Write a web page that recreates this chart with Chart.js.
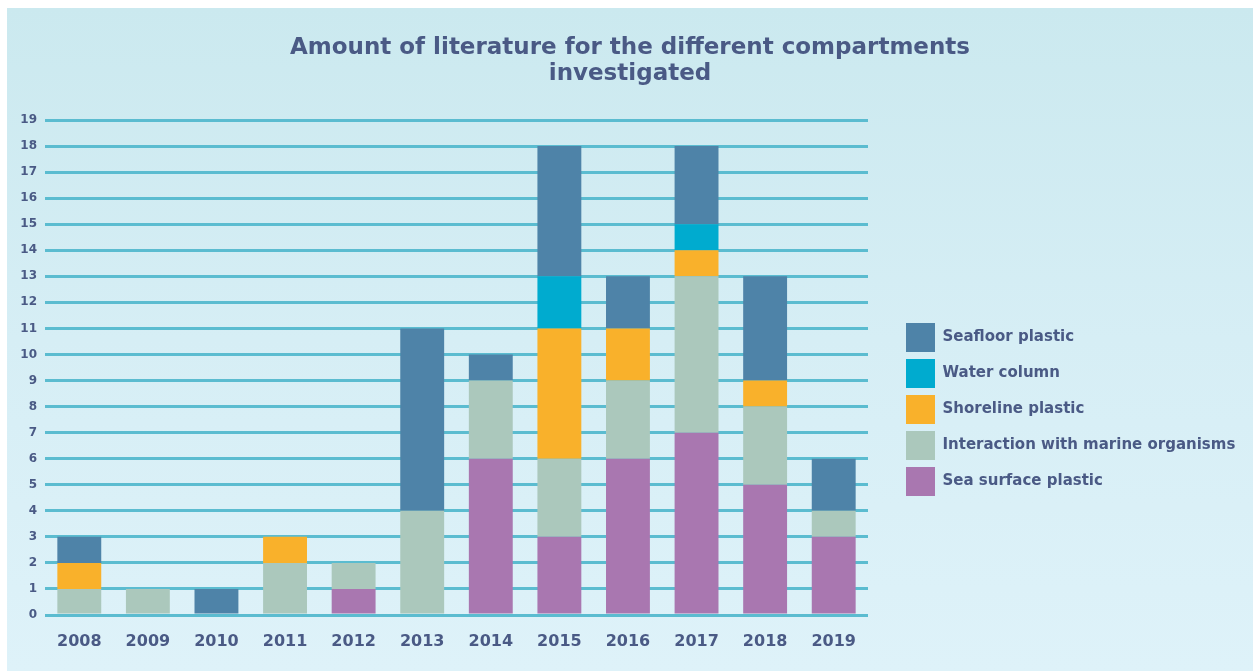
<!DOCTYPE html>
<html>
<head>
<meta charset="utf-8">
<script src="https://cdn.jsdelivr.net/npm/chart.js@4.4.1/dist/chart.umd.min.js"></script>
<style>
  body { margin: 0; background: #fff; }
  #panel {
    position: absolute; left: 7px; top: 8px; width: 1246px; height: 663px;
    background: linear-gradient(to bottom, #cbe9ef 0%, #d6eef5 50%, #def2f9 100%);
  }
</style>
</head>
<body>
<div id="panel"><canvas id="myChart" width="1246" height="663"></canvas></div>
<script>
const years = ['2008', '2009', '2010', '2011', '2012', '2013', '2014', '2015', '2016', '2017', '2018', '2019'];
const seaSurface  = [0, 0, 0, 0, 1, 0, 6, 3, 6, 7, 5, 3];
const interaction = [1, 1, 0, 2, 1, 4, 3, 3, 3, 6, 3, 1];
const shoreline   = [1, 0, 0, 1, 0, 0, 0, 5, 2, 1, 1, 0];
const waterColumn = [0, 0, 0, 0, 0, 0, 0, 2, 0, 1, 0, 0];
const seafloor    = [1, 0, 1, 0, 0, 7, 1, 5, 2, 3, 4, 2];
const yMax = 19;

const textColor = '#4a5a85';
const gridColor = '#5bbcd0';

// legend sits a bit right of the plot and lower than Chart.js would put it
const legendPlace = {
  id: 'legendPlace',
  beforeInit(chart) {
    const fit = chart.legend.fit;
    chart.legend.fit = function () {
      fit.bind(chart.legend)();
      this.width = 385;
    };
  },
  afterLayout(chart) {
    const l = chart.legend;
    const w = l.width, h = l.height;
    l.left = 892; l.right = 892 + w;
    l.top = 308; l.bottom = 308 + h;
  }
};

new Chart(document.getElementById('myChart').getContext('2d'), {
  type: 'bar',
  data: {
    labels: years,
    datasets: [
      { label: 'Sea surface plastic', data: seaSurface, backgroundColor: '#a977b0' },
      { label: 'Interaction with marine organisms', data: interaction, backgroundColor: '#abc8bc' },
      { label: 'Shoreline plastic', data: shoreline, backgroundColor: '#f9b12b' },
      { label: 'Water column', data: waterColumn, backgroundColor: '#00abcf' },
      { label: 'Seafloor plastic', data: seafloor, backgroundColor: '#4e83a8' },
    ],
  },
  options: {
    responsive: false,
    animation: false,
    devicePixelRatio: 1,
    layout: { padding: 0 },
    datasets: { bar: { barPercentage: 0.64, categoryPercentage: 1, borderWidth: 0 } },
    scales: {
      x: {
        stacked: true,
        afterFit: (s) => { s.height = 56; },
        grid: { display: false, drawTicks: false },
        border: { display: false },
        ticks: { color: textColor, padding: 17, font: { family: 'DejaVu Sans', weight: 'bold', size: 16 } },
      },
      y: {
        stacked: true,
        min: 0,
        max: yMax,
        afterFit: (s) => { s.width = 38; },
        grid: { color: gridColor, lineWidth: 3, drawTicks: false },
        border: { display: false },
        ticks: { stepSize: 1, color: textColor, padding: 8, font: { family: 'DejaVu Sans', weight: 'bold', size: 12 } },
      },
    },
    plugins: {
      title: {
        display: true,
        text: ['Amount of literature for the different compartments', 'investigated'],
        color: textColor,
        font: { family: 'DejaVu Sans', weight: 'bold', size: 23, lineHeight: 26 / 23 },
        padding: { top: 27, bottom: 33 },
      },
      legend: {
        position: 'right',
        align: 'start',
        reverse: true,
        labels: {
          boxWidth: 29,
          boxHeight: 29,
          padding: 7,
          color: textColor,
          font: { family: 'DejaVu Sans', weight: 'bold', size: 15 },
        },
      },
      tooltip: { enabled: false },
    },
  },
  plugins: [legendPlace],
});
</script>
</body>
</html>
